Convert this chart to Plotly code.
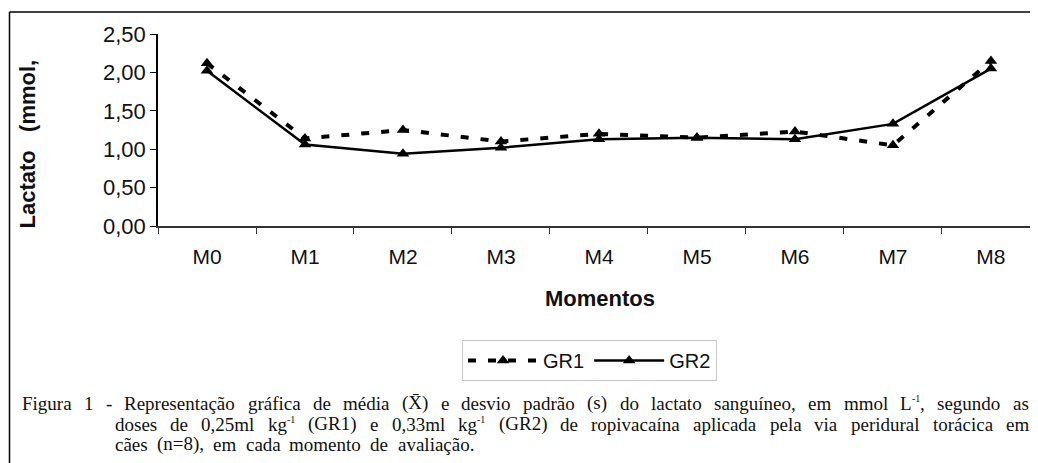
import re
import plotly.graph_objects as go

# ---------------- data ----------------
momentos = ["M0", "M1", "M2", "M3", "M4", "M5", "M6", "M7", "M8"]
gr1 = [2.12, 1.14, 1.25, 1.10, 1.20, 1.15, 1.23, 1.05, 2.15]
gr2 = [2.02, 1.06, 0.94, 1.02, 1.13, 1.15, 1.13, 1.33, 2.05]
y_ticks = [0, 0.5, 1.0, 1.5, 2.0, 2.5]

x_title = "Momentos"
y_title = "Lactato   (mmol,"
caption_lines = [
    "Figura 1 - Representação gráfica de média (X̄) e desvio padrão (s) do lactato sanguíneo, em mmol L<sup>-1</sup>, segundo as",
    "doses de 0,25ml kg<sup>-1</sup> (GR1) e 0,33ml kg<sup>-1</sup> (GR2) de ropivacaína aplicada pela via peridural torácica em",
    "cães (n=8), em cada momento de avaliação.",
]

# ---------------- layout geometry (pixels in the 1038x463 window) ----------------
OFF = 8  # browser body margin: the figure is drawn at (8, 8)
WIN_W, WIN_H = 1038, 463
W, H = WIN_W - OFF, WIN_H - OFF
PL, PR, PT, PB = 158, 1038, 34, 226  # plot box in window pixels
L = PL - OFF
T = PT - OFF
R = 0
B = H - (PB - OFF)
PW = W - L - R
PH = H - T - B


def px(xw):
    return (xw - OFF - L) / PW


def py(yw):
    return (PB - yw) / PH


SANS = "Liberation Sans"
SERIF = "Liberation Serif"

fig = go.Figure()
fig.add_trace(go.Scatter(
    x=momentos, y=gr1, name="GR1", mode="lines+markers",
    line=dict(color="black", width=4, dash="8px,12px"),
    marker=dict(symbol="triangle-up", size=11, color="black"),
))
fig.add_trace(go.Scatter(
    x=momentos, y=gr2, name="GR2", mode="lines+markers",
    line=dict(color="black", width=2.5),
    marker=dict(symbol="triangle-up", size=11, color="black"),
))

fig.update_layout(
    width=W, height=H,
    margin=dict(l=L, r=R, t=T, b=B, pad=0),
    paper_bgcolor="white", plot_bgcolor="white",
    separators=",.",
    font=dict(family=SANS, size=20, color="#111"),
    showlegend=True,
    legend=dict(
        orientation="h", x=px(462), y=py(340), xanchor="left", yanchor="top",
        bordercolor="#c8c8c8", borderwidth=1, bgcolor="white",
        font=dict(family=SANS, size=20, color="#111"),
        itemwidth=70, tracegroupgap=0,
    ),
)

fig.update_xaxes(
    type="category", range=[-0.5, 8.48], tickson="boundaries",
    ticks="outside", ticklen=6, tickwidth=1, tickcolor="#333",
    showline=True, linecolor="#333", linewidth=1.5,
    showgrid=False, zeroline=False,
    tickfont=dict(family=SANS, size=21, color="#111"),
    ticklabelstandoff=11,
)
fig.update_yaxes(
    range=[0, 2.5], tickvals=y_ticks, tickformat=".2f",
    ticks="outside", ticklen=6, tickwidth=1, tickcolor="black",
    showline=True, linecolor="black", linewidth=1.5,
    showgrid=False, zeroline=False,
    tickfont=dict(family=SANS, size=22, color="#111"),
)

# axis titles
fig.add_annotation(
    text=f"<b>{x_title}</b>", x=px(600), y=py(298), xref="paper", yref="paper",
    xanchor="center", yanchor="middle", showarrow=False,
    font=dict(family=SANS, size=22, color="#111"),
)
fig.add_annotation(
    text=f"<b>{y_title}</b>", x=px(27), y=py(231), xref="paper", yref="paper",
    xanchor="center", yanchor="bottom", showarrow=False, textangle=-90,
    font=dict(family=SANS, size=22, color="#111"),
)

# outer frame (left and top edges visible)
fig.add_shape(type="line", xref="paper", yref="paper",
              x0=px(9.5), x1=px(9.5), y0=py(12), y1=py(WIN_H + 10),
              line=dict(color="black", width=1.5))
fig.add_shape(type="line", xref="paper", yref="paper",
              x0=px(9.5), x1=px(WIN_W + 10), y0=py(12), y1=py(12),
              line=dict(color="black", width=1.5))

# ---------------- caption (justified, Times metrics) ----------------
TW = {" ": 250, "(": 333, ")": 333, ",": 250, "-": 333, ".": 250, "=": 564,
      "A": 722, "F": 556, "G": 722, "L": 611, "M": 889, "R": 667, "X": 722,
      "a": 444, "b": 500, "c": 444, "d": 500, "e": 444, "f": 333, "g": 500,
      "h": 500, "i": 278, "j": 278, "k": 500, "l": 278, "m": 778, "n": 500,
      "o": 500, "p": 500, "q": 500, "r": 333, "s": 389, "t": 278, "u": 500,
      "v": 500, "w": 722, "x": 500, "y": 500, "z": 444,
      "á": 444, "ã": 444, "é": 444, "í": 278, "ç": 444, "ó": 500, "ú": 500,
      "\u0304": 0}

CAP_SIZE = 19
SUP_SIZE = 10
SUP_RAISE = 4.5


def segments(w):
    """Split a word into (text, is_sup) pieces."""
    out = []
    for p in re.split(r"(<sup>.*?</sup>)", w):
        if not p:
            continue
        if p.startswith("<sup>"):
            out.append((p[5:-6], True))
        else:
            out.append((p, False))
    return out


def seg_width(text, sup):
    size = SUP_SIZE if sup else CAP_SIZE
    return sum(TW.get(c, 500) for c in text) * size / 1000.0


cap_specs = [  # (start px, end px, centre y px)
    (22, 1029, 403),
    (115, 1029, 424),
    (115, 474, 444),
]
for line, (x0, x1, yc) in zip(caption_lines, cap_specs):
    words = [segments(w) for w in line.split(" ")]
    widths = [sum(seg_width(t, s) for t, s in segs) for segs in words]
    gap = (x1 - x0 - sum(widths)) / (len(words) - 1)
    xpos = x0
    for segs, wd in zip(words, widths):
        sx = xpos
        for t, sup in segs:
            fig.add_annotation(
                text=t, x=px(sx), y=py(yc - SUP_RAISE if sup else yc),
                xref="paper", yref="paper",
                xanchor="left", yanchor="middle", showarrow=False,
                borderpad=0, borderwidth=0,
                font=dict(family=SERIF, size=SUP_SIZE if sup else CAP_SIZE,
                          color="#111"),
            )
            sx += seg_width(t, sup)
        xpos += wd + gap

fig.write_html("out.html")
